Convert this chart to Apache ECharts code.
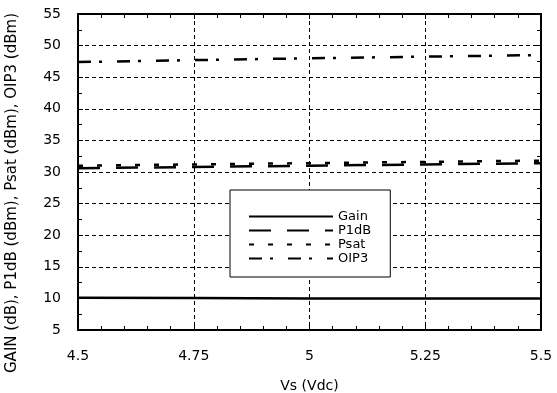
<!DOCTYPE html>
<html><head><meta charset="utf-8">
<script src="https://cdn.jsdelivr.net/npm/echarts@6/dist/echarts.min.js"></script>
<style>html,body{margin:0;padding:0;background:#fff}#c{width:557px;height:393px}</style>
</head><body><div id="c"></div>
<script>
const vs = [4.5, 4.75, 5.0, 5.25, 5.5];
const gain = [10.1, 10.05, 10.0, 10.0, 10.0];
const p1db = [30.6, 30.8, 31.0, 31.2, 31.4];
const psat = [31.0, 31.2, 31.4, 31.6, 31.8];
const oip3 = [47.4, 47.7, 48.0, 48.25, 48.5];
const seriesNames = ['Gain', 'P1dB', 'Psat', 'OIP3'];
const xTitle = 'Vs (Vdc)';
const yTitle = 'GAIN (dB), P1dB (dBm), Psat (dBm), OIP3 (dBm)';

const F = 'DejaVu Sans';
const chart = echarts.init(document.getElementById('c'), null, {renderer: 'canvas'});
const pair = arr => vs.map((x, i) => [x, arr[i]]);
const mk = (name, arr, type) => ({
  name, type: 'line', data: pair(arr), symbol: 'none', xAxisIndex: 0, yAxisIndex: 0,
  lineStyle: {color: '#000', width: 2.5, type: type},
  itemStyle: {color: '#000'}, animation: false
});
const fmt = v => String(+v.toFixed(2));
chart.setOption({
  animation: false,
  backgroundColor: '#fff',
  grid: {left: 78, top: 14, right: 16, bottom: 63, containLabel: false, outerBoundsMode: 'none'},
  legend: {
    data: seriesNames, orient: 'vertical', left: 230, top: 190,
    padding: [20, 19, 12, 18], itemWidth: 84, itemHeight: 10, itemGap: 1,
    borderColor: '#000', borderWidth: 1, backgroundColor: '#fff',
    itemStyle: {opacity: 0},
    textStyle: {fontFamily: F, fontSize: 13, color: '#000', lineHeight: 13}
  },
  xAxis: [{
    type: 'value', min: 4.5, max: 5.5, interval: 0.25, position: 'bottom',
    name: xTitle, nameLocation: 'middle', nameGap: 49,
    nameTextStyle: {fontFamily: F, fontSize: 14, color: '#000'},
    axisLine: {show: true, onZero: false, lineStyle: {color: '#000', width: 2}},
    axisTick: {inside: true, length: 5, lineStyle: {color: '#000'}},
    minorTick: {show: true, splitNumber: 5, length: 4, lineStyle: {color: '#000'}},
    axisLabel: {fontFamily: F, fontSize: 14, color: '#000', margin: 19, formatter: fmt},
    splitLine: {show: true, lineStyle: {color: '#000', width: 1, type: [4, 3]}}
  }, {
    type: 'value', min: 4.5, max: 5.5, interval: 0.25, position: 'top',
    axisLine: {show: true, onZero: false, lineStyle: {color: '#000', width: 2}},
    axisTick: {inside: true, length: 5, lineStyle: {color: '#000'}},
    minorTick: {show: true, splitNumber: 5, length: 4, lineStyle: {color: '#000'}},
    axisLabel: {show: false}, splitLine: {show: false}
  }],
  yAxis: [{
    type: 'value', min: 5, max: 55, interval: 5, position: 'left',
    name: yTitle, nameLocation: 'middle', nameGap: 58, nameRotate: 90,
    nameTextStyle: {fontFamily: F, fontSize: 15, color: '#000', padding: [0, 42, 0, 0]},
    axisLine: {show: true, onZero: false, lineStyle: {color: '#000', width: 2}},
    axisTick: {inside: true, length: 5, lineStyle: {color: '#000'}},
    minorTick: {show: true, splitNumber: 2, length: 4, lineStyle: {color: '#000'}},
    axisLabel: {fontFamily: F, fontSize: 14, color: '#000', margin: 17},
    splitLine: {show: true, lineStyle: {color: '#000', width: 1, type: [4, 3]}}
  }, {
    type: 'value', min: 5, max: 55, interval: 5, position: 'right',
    axisLine: {show: true, onZero: false, lineStyle: {color: '#000', width: 2}},
    axisTick: {inside: true, length: 5, lineStyle: {color: '#000'}},
    minorTick: {show: true, splitNumber: 2, length: 4, lineStyle: {color: '#000'}},
    axisLabel: {show: false}, splitLine: {show: false}
  }],
  series: [
    mk(seriesNames[0], gain, 'solid'),
    mk(seriesNames[1], p1db, [22, 16]),
    mk(seriesNames[2], psat, [5, 14]),
    mk(seriesNames[3], oip3, [13, 8, 3, 15])
  ]
});
</script></body></html>
